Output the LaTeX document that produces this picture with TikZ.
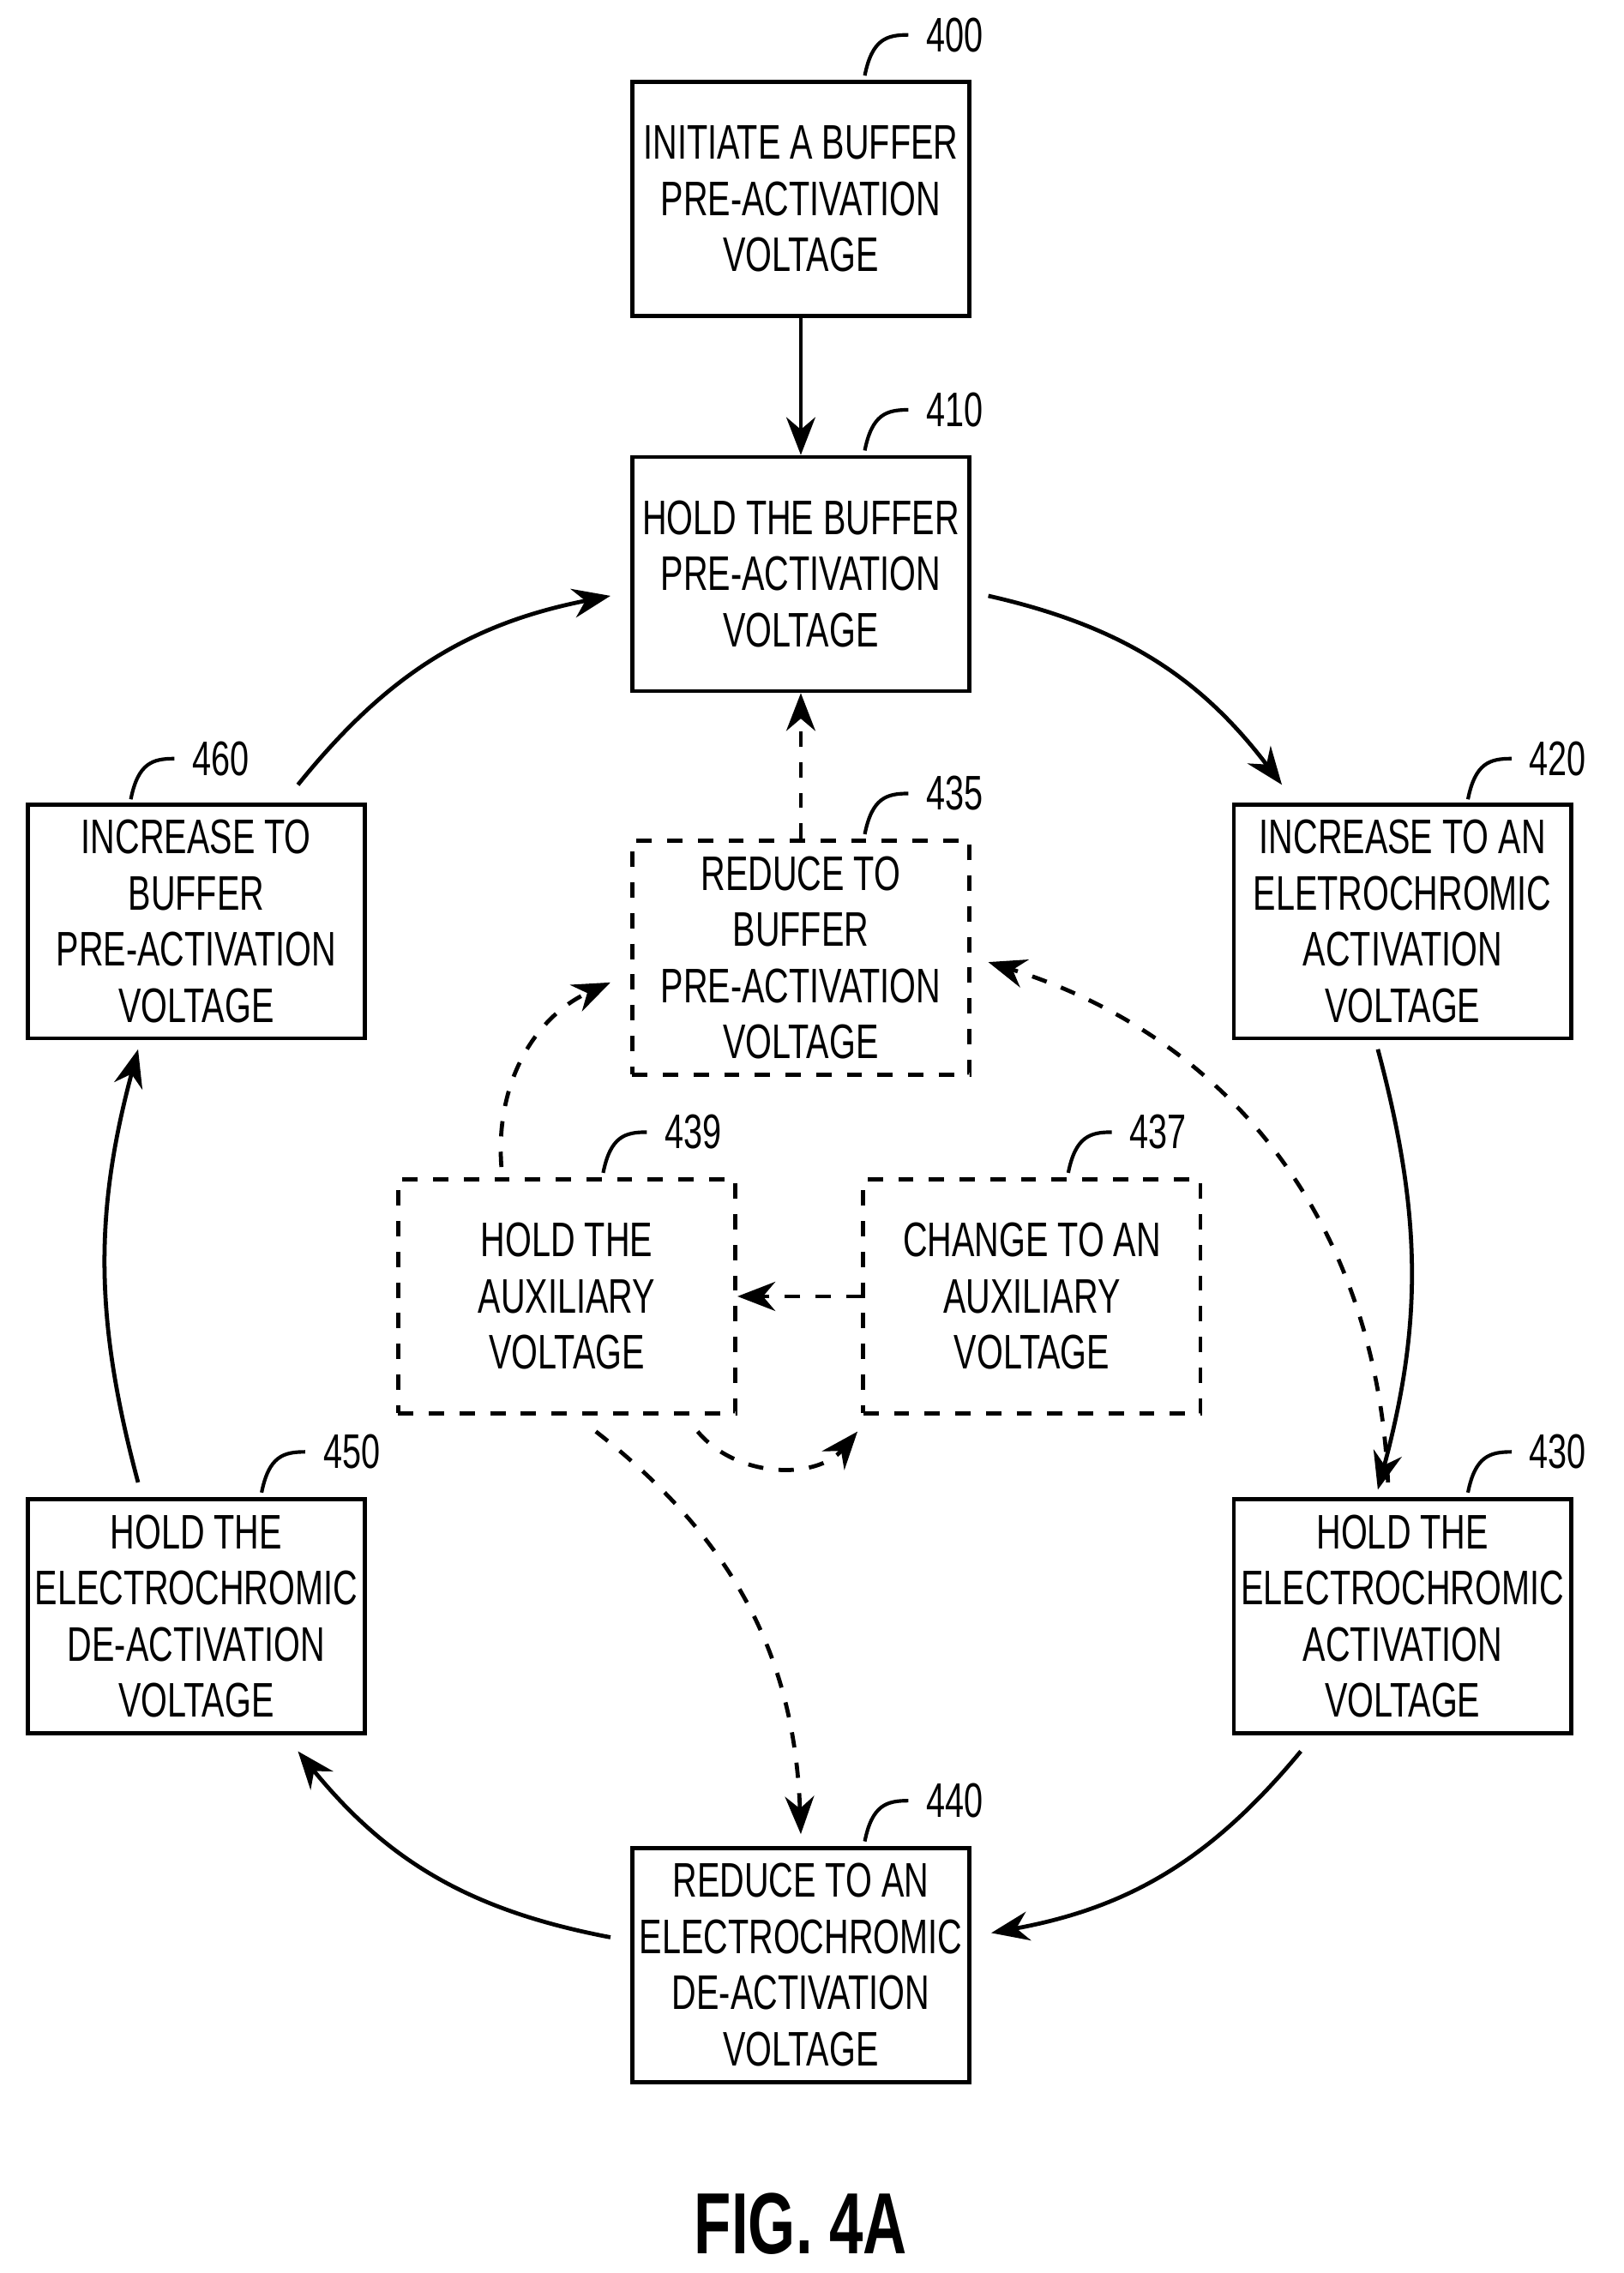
\documentclass[tikz,border=0pt]{standalone}
\usepackage{fontspec}
\setmainfont{Liberation Sans}[FakeStretch=0.7]
\usetikzlibrary{arrows.meta}
\begin{document}
\begin{tikzpicture}[x=0.1cm, y=-0.1cm, >={Stealth[length=2.6mm,width=2mm]},
box/.style={draw, line width=0.8pt, minimum width=2.32cm, minimum height=1.61cm, inner sep=1pt, align=center, font=\fontsize{9.5}{11}\selectfont},
dbox/.style={box, dashed},
lbl/.style={font=\fontsize{9.5}{11}\selectfont, anchor=west},
arr/.style={->, line width=0.8pt},
darr/.style={arr, dashed}]
\useasboundingbox (0,0) rectangle (111.7,156.4);
\node[box] (400) at (55.1,13.7) {INITIATE A BUFFER\\PRE-ACTIVATION\\VOLTAGE};
\node[box] (410) at (55.1,39.5) {HOLD THE BUFFER\\PRE-ACTIVATION\\VOLTAGE};
\node[dbox] (435) at (55.1,65.9) {REDUCE TO\\BUFFER\\PRE-ACTIVATION\\VOLTAGE};
\node[box] (420) at (96.5,63.4) {INCREASE TO AN\\ELETROCHROMIC\\ACTIVATION\\VOLTAGE};
\node[box] (460) at (13.5,63.4) {INCREASE TO\\BUFFER\\PRE-ACTIVATION\\VOLTAGE};
\node[dbox] (439) at (39,89.2) {HOLD THE\\AUXILIARY\\VOLTAGE};
\node[dbox] (437) at (71,89.2) {CHANGE TO AN\\AUXILIARY\\VOLTAGE};
\node[box] (430) at (96.5,111.2) {HOLD THE\\ELECTROCHROMIC\\ACTIVATION\\VOLTAGE};
\node[box] (450) at (13.5,111.2) {HOLD THE\\ELECTROCHROMIC\\DE-ACTIVATION\\VOLTAGE};
\node[box] (440) at (55.1,135.2) {REDUCE TO AN\\ELECTROCHROMIC\\DE-ACTIVATION\\VOLTAGE};
\node[font=\bfseries\fontsize{17}{20}\selectfont] (fig) at (55.1,153) {FIG. 4A};
% reference numerals
\foreach \n/\x/\y in {400/59.5/5.2, 410/59.5/31, 435/59.5/57.4, 420/101/55, 460/9/55, 439/41.5/80.7, 437/73.5/80.7, 430/101/102.7, 450/18/102.7, 440/59.5/126.7} {
  \node[lbl] (l\n) at (\x+3,\y-2.8) {\n};
  \draw[line width=0.7pt] (\x,\y) .. controls (\x+0.5,\y-2.5) and (\x+1.5,\y-2.8) .. (l\n.west);
}
\draw[arr] (400) -- (410);
\draw[arr] (68,41) to[bend left=20] (88.2,54);
\draw[arr] (94.8,72.2) to[bend left=15] (94.8,102.5);
\draw[arr] (89.5,120.5) to[bend left=20] (68.2,133);
\draw[arr] (42,133.3) to[bend left=20] (20.5,120.5);
\draw[arr] (9.5,102) to[bend left=15] (9.5,72.2);
\draw[arr] (20.5,54) to[bend left=20] (42,41);
\draw[darr] (435) -- (410);
\draw[darr] (34.5,80.3) to[bend left=35] (42,67.6);
\draw[darr] (437) -- (439);
\draw[darr] (48,98.5) to[bend right=50] (59,98.5);
\draw[darr] (41,98.5) to[bend left=25] (55.1,126.2);
\draw[darr] (95.5,102) to[bend right=35] (68,66.2);
\end{tikzpicture}
\end{document}
